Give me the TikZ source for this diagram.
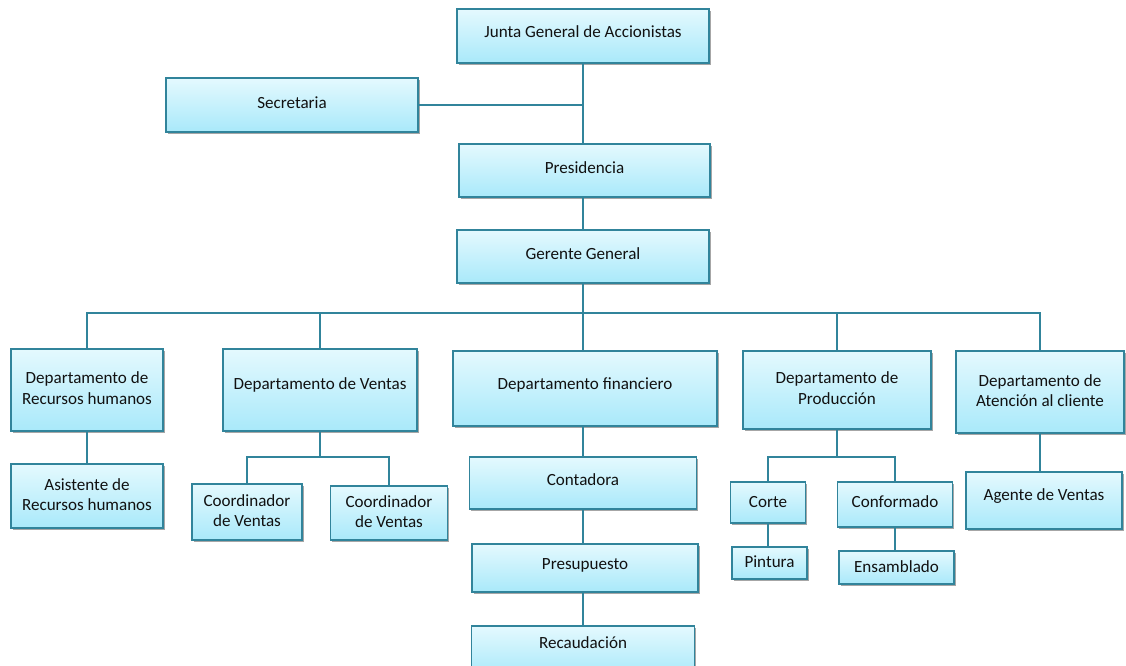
\documentclass[tikz,border=0pt]{standalone}
\usepackage{fontspec}
\setmainfont{Carlito}
\usetikzlibrary{shadows}
\definecolor{edge}{HTML}{31849B}
\definecolor{boxtop}{HTML}{E4F9FE}
\definecolor{boxbot}{HTML}{A9E9FA}
\definecolor{ink}{HTML}{111111}
\tikzset{
  boxtext/.style={text=ink, font=\fontsize{12.8}{15.5}\selectfont, align=center, inner sep=0pt},
  box/.style 2 args={draw=edge, line width=1pt, top color=boxtop, bottom color=boxbot,
    inner sep=0pt,
    drop shadow={shadow xshift=1.3pt, shadow yshift=-1.3pt, fill=black, opacity=0.35},
    label={[boxtext, yshift=#2]center:{#1}}},
  conn/.style={draw=edge, line width=1.35pt}
}
\begin{document}
\begin{tikzpicture}[x=0.75pt, y=-0.75pt]
\useasboundingbox (0,0) rectangle (1126,665);
% level 0-2
\node[box={Junta General de Accionistas}{3.6pt}, minimum width=189pt, minimum height=40.5pt] (junta) at (583,36) {};
\node[box={Secretaria}{2pt}, minimum width=189pt, minimum height=40.5pt] (sec) at (292,105) {};
\node[box={Presidencia}{2.4pt}, minimum width=188.25pt, minimum height=39.75pt] (pres) at (584.5,170.5) {};
\node[box={Gerente General}{2.4pt}, minimum width=189pt, minimum height=39.75pt] (gg) at (583,256.5) {};
% departments
\node[box={Departamento de\\Recursos humanos}{1.6pt}, minimum width=114pt, minimum height=61.5pt] (rrhh) at (87,390) {};
\node[box={Departamento de Ventas}{3.6pt}, minimum width=145.5pt, minimum height=61.5pt] (ventas) at (320,390) {};
\node[box={Departamento financiero}{3pt}, minimum width=198pt, minimum height=56.25pt] (fin) at (585,388.5) {};
\node[box={Departamento de\\Producción}{1.6pt}, minimum width=141pt, minimum height=58.5pt] (prod) at (837,390) {};
\node[box={Departamento de\\Atención al cliente}{1pt}, minimum width=126pt, minimum height=61.5pt] (aten) at (1040,392) {};
% sub-levels
\node[box={Asistente de\\Recursos humanos}{1pt}, minimum width=114pt, minimum height=48pt] (asis) at (87,496) {};
\node[box={Coordinador\\de Ventas}{1pt}, minimum width=82.5pt, minimum height=42pt] (coordA) at (247,512) {};
\node[box={Coordinador\\de Ventas}{1pt}, minimum width=87.75pt, minimum height=40.5pt] (coordB) at (389,513) {};
\node[box={Contadora}{2.4pt}, minimum width=170.25pt, minimum height=39pt] (cont) at (583,483) {};
\node[box={Presupuesto}{1.6pt}, minimum width=169.5pt, minimum height=36pt] (presu) at (585,568) {};
\node[box={Recaudación}{6pt}, minimum width=167.25pt, minimum height=37.5pt] (recau) at (583,651) {};
\node[box={Corte}{0pt}, minimum width=56.25pt, minimum height=30.75pt] (corte) at (768,502.5) {};
\node[box={Conformado}{2.4pt}, minimum width=86.25pt, minimum height=33.75pt] (conf) at (895,504.5) {};
\node[box={Pintura}{0.8pt}, minimum width=56.25pt, minimum height=24pt] (pint) at (769.5,563) {};
\node[box={Ensamblado}{0.8pt}, minimum width=86.25pt, minimum height=24.75pt] (ens) at (896.5,567.5) {};
\node[box={Agente de Ventas}{3.4pt}, minimum width=117pt, minimum height=42.75pt] (agente) at (1044,500.5) {};
% connectors
\draw[conn] (junta.south) -- (junta.south |- pres.north);
\draw[conn] (sec.east) -- (sec.east -| junta.south);
\draw[conn] (pres.south -| gg.north) -- (gg.north);
\draw[conn] (gg.south) -- ++(0,29) -| (rrhh.north);
\draw[conn] (gg.south) -- ++(0,29) -| (ventas.north);
\draw[conn] (gg.south) -- (gg.south |- fin.north);
\draw[conn] (gg.south) -- ++(0,29) -| (prod.north);
\draw[conn] (gg.south) -- ++(0,29) -| (aten.north);
\draw[conn] (rrhh.south) -- (asis.north);
\draw[conn] (ventas.south) -- ++(0,25) -| (coordA.north);
\draw[conn] (ventas.south) -- ++(0,25) -| (coordB.north);
\draw[conn] (fin.south -| cont.north) -- (cont.north);
\draw[conn] (cont.south) -- (cont.south |- presu.north);
\draw[conn] (presu.south -| recau.north) -- (recau.north);
\draw[conn] (prod.south) -- ++(0,27) -| (corte.north);
\draw[conn] (prod.south) -- ++(0,27) -| (conf.north);
\draw[conn] (corte.south) -- (corte.south |- pint.north);
\draw[conn] (conf.south) -- (conf.south |- ens.north);
\draw[conn] (aten.south) -- (aten.south |- agente.north);
\end{tikzpicture}
\end{document}
